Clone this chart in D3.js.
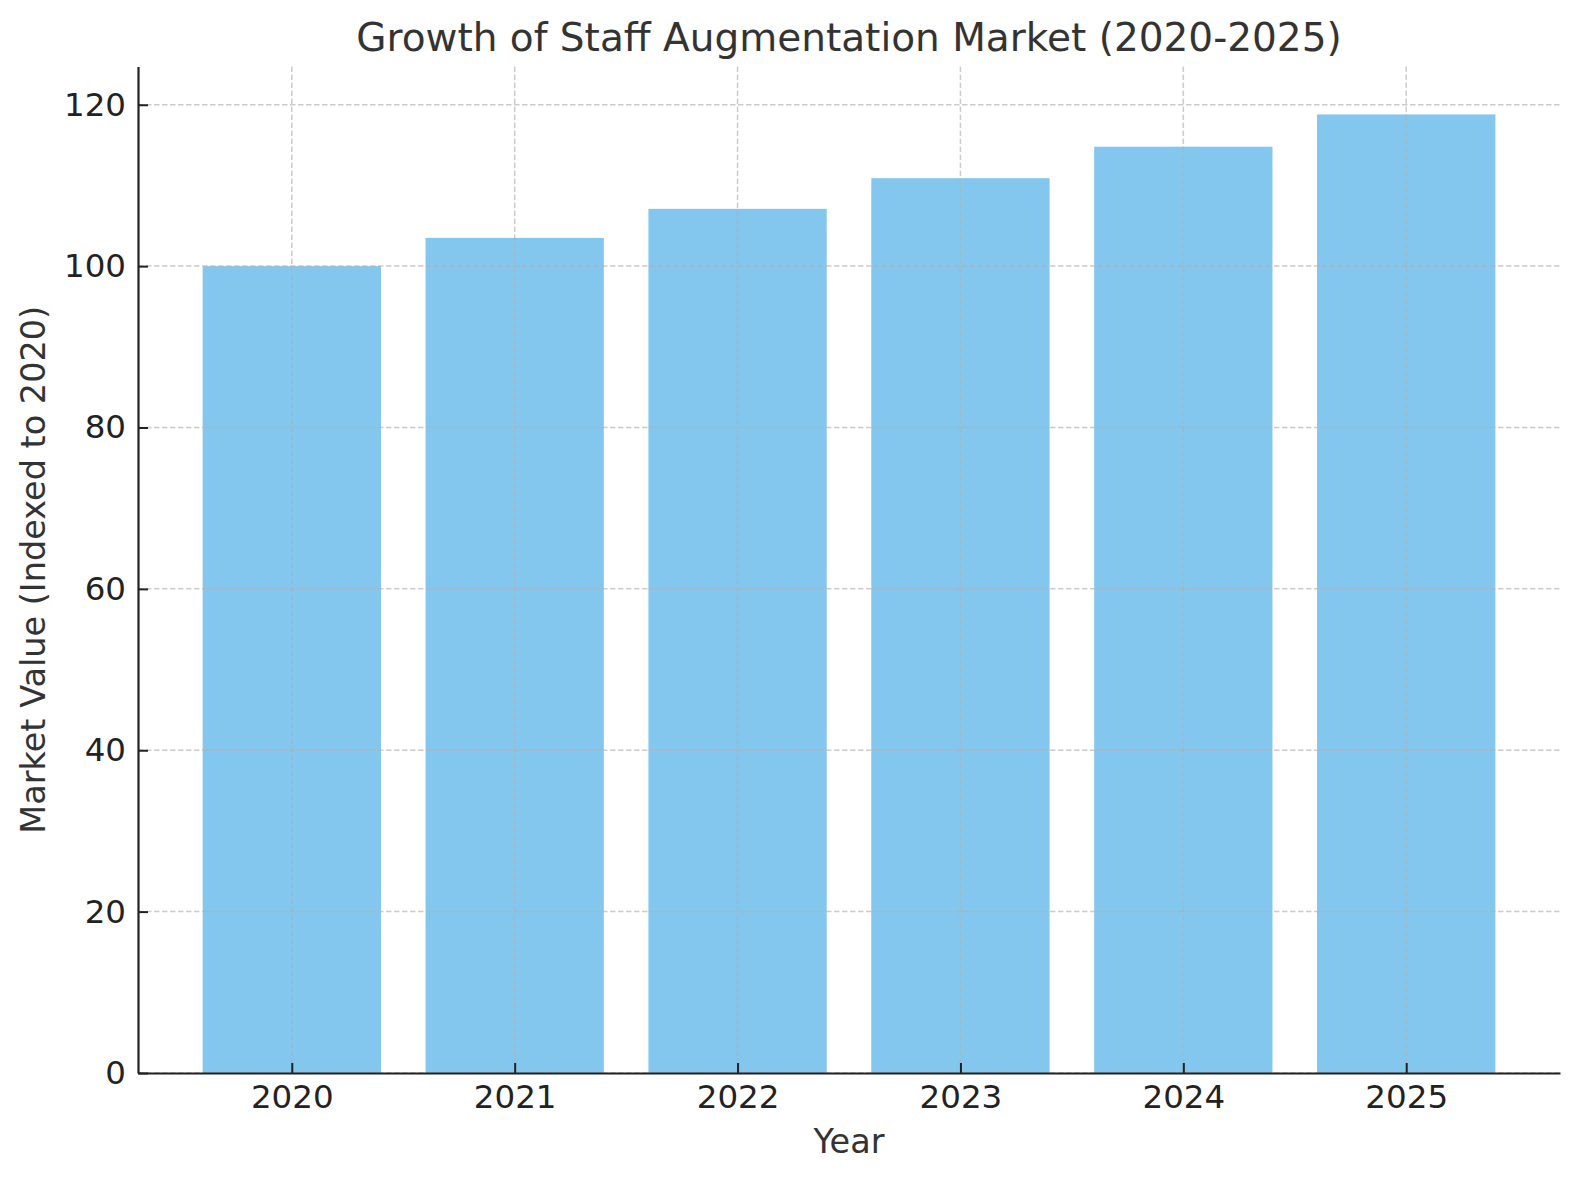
<!DOCTYPE html>
<html>
<head>
<meta charset="utf-8">
<script src="https://cdn.jsdelivr.net/npm/d3@7"></script>
<style>
  body { margin: 0; background: #ffffff; }
  text { font-family: "DejaVu Sans", sans-serif; }
</style>
</head>
<body>
<div id="chart"></div>
<script>
// chart data
const years  = ["2020", "2021", "2022", "2023", "2024", "2025"];
const values = [100, 103.5, 107.1, 110.9, 114.8, 118.8];
const yTicks = [0, 20, 40, 60, 80, 100, 120];

const W = 1580, H = 1180;
const margin = { top: 66.5, right: 20, bottom: 107, left: 138 };
const plotW = W - margin.left - margin.right;
const plotH = H - margin.top - margin.bottom;

const svg = d3.select("#chart")
  .append("svg")
    .attr("width", W)
    .attr("height", H);

const g = svg.append("g")
  .attr("transform", "translate(" + margin.left + "," + margin.top + ")");

// bar centres at integer positions, 5% margins either side
const n = years.length;
const span = (n - 1) + 0.8;
const pad = span * 0.05;
const x = d3.scaleLinear()
  .domain([-0.4 - pad, n - 1 + 0.4 + pad])
  .range([0, plotW]);

const y = d3.scaleLinear()
  .domain([0, d3.max(values) * 1.05])
  .range([plotH, 0]);

// bars
const barW = x(0.8) - x(0);
g.selectAll(".bar")
  .data(values)
  .enter()
    .append("rect")
      .attr("class", "bar")
      .attr("x", (d, i) => x(i) - barW / 2)
      .attr("y", d => y(d))
      .attr("width", barW)
      .attr("height", d => plotH - y(d))
      .attr("fill", "#84c7ee");

// grid (dashed, both directions, drawn over the bars)
const grid = g.append("g")
  .attr("stroke", "#b0b0b0")
  .attr("stroke-opacity", 0.65)
  .attr("stroke-width", 1.5)
  .attr("stroke-dasharray", "5.5,2.5");

grid.selectAll(".gy")
  .data(yTicks)
  .enter()
    .append("line")
      .attr("x1", 0).attr("x2", plotW)
      .attr("y1", d => y(d)).attr("y2", d => y(d));

grid.selectAll(".gx")
  .data(d3.range(n))
  .enter()
    .append("line")
      .attr("y1", 0).attr("y2", plotH)
      .attr("x1", d => x(d)).attr("x2", d => x(d));

// axes, ticks pointing inward
const xAxis = d3.axisBottom(x)
  .tickValues(d3.range(n))
  .tickFormat(i => years[i])
  .tickSizeInner(-10)
  .tickSizeOuter(0)
  .tickPadding(12);

const yAxis = d3.axisLeft(y)
  .tickValues(yTicks)
  .tickSizeInner(-10)
  .tickSizeOuter(0)
  .tickPadding(12);

const gx = g.append("g")
  .attr("transform", "translate(0," + plotH + ")")
  .call(xAxis);

const gy = g.append("g")
  .call(yAxis);

[gx, gy].forEach(a => {
  a.select(".domain").attr("stroke", "#222222").attr("stroke-width", 2.2);
  a.selectAll(".tick line").attr("stroke", "#222222").attr("stroke-width", 2);
  a.selectAll(".tick text")
    .attr("fill", "#222222")
    .style("font-size", "32.5px")
    .style("font-family", "'DejaVu Sans', sans-serif");
});

// titles
svg.append("text")
  .attr("x", margin.left + plotW / 2)
  .attr("y", 50.5)
  .attr("text-anchor", "middle")
  .attr("fill", "#333333")
  .style("font-size", "39px")
  .text("Growth of Staff Augmentation Market (2020-2025)");

svg.append("text")
  .attr("x", margin.left + plotW / 2)
  .attr("y", 1152.5)
  .attr("text-anchor", "middle")
  .attr("fill", "#333333")
  .style("font-size", "33.5px")
  .text("Year");

svg.append("text")
  .attr("transform", "translate(45," + (margin.top + plotH / 2) + ") rotate(-90)")
  .attr("text-anchor", "middle")
  .attr("fill", "#333333")
  .style("font-size", "33.5px")
  .text("Market Value (Indexed to 2020)");
</script>
</body>
</html>
